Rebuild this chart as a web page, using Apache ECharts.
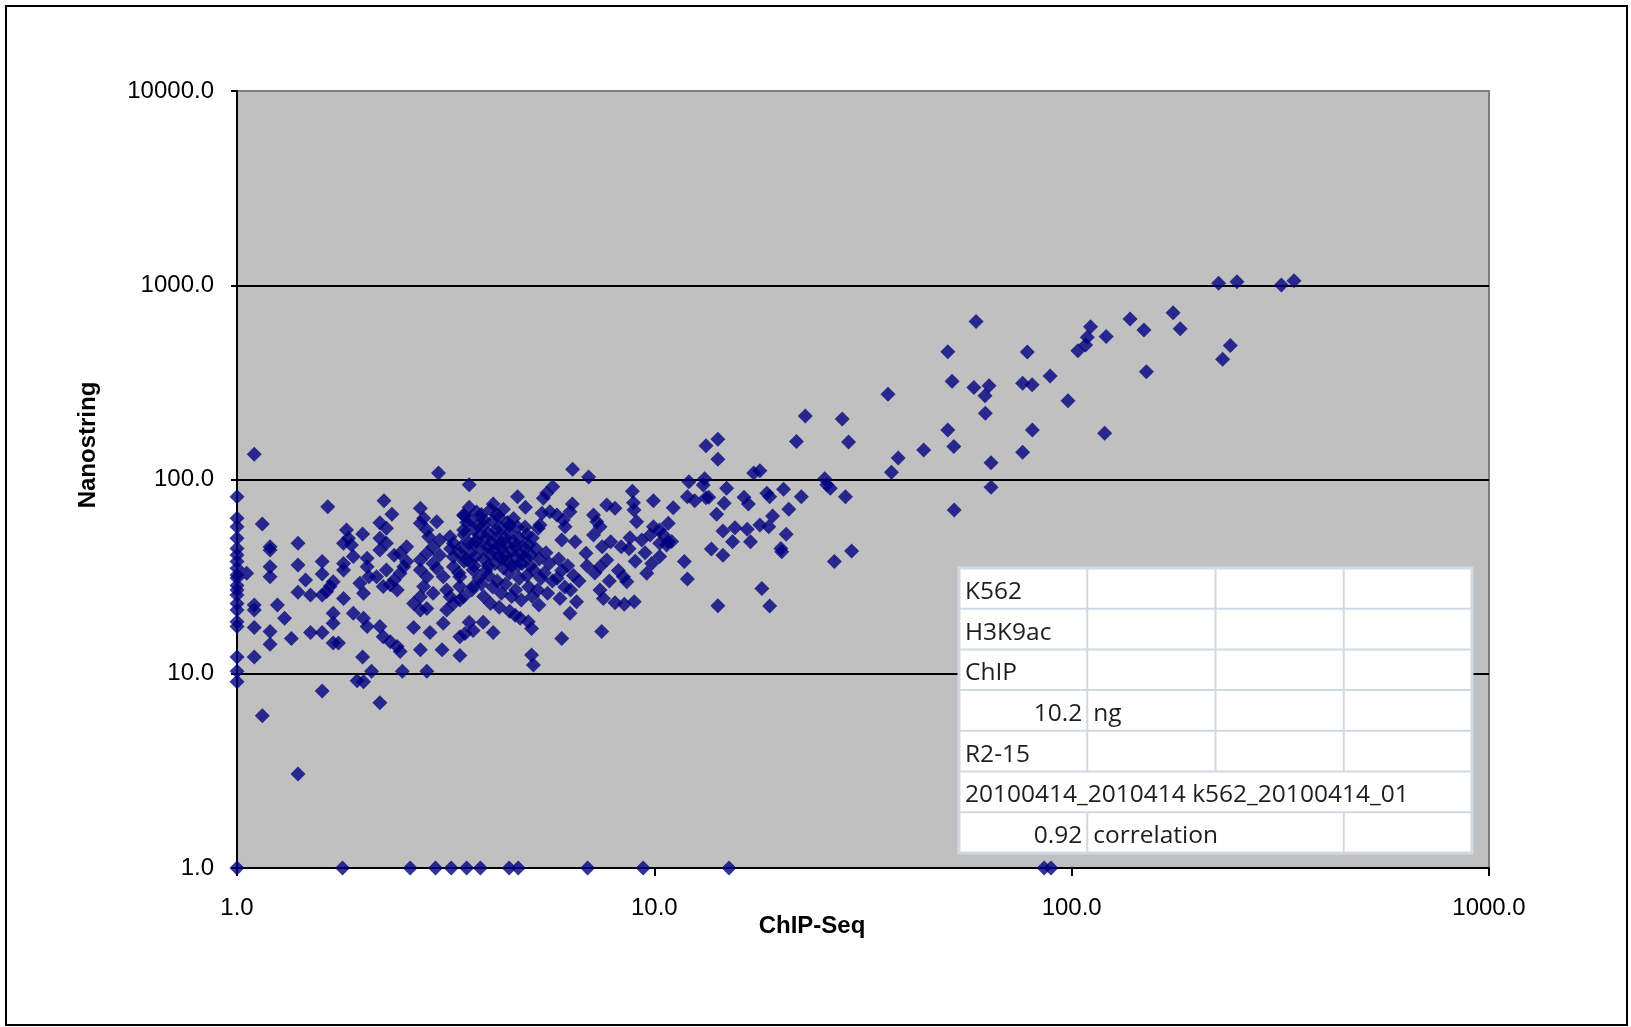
<!DOCTYPE html>
<html>
<head>
<meta charset="utf-8">
<title>ChIP-Seq vs Nanostring</title>
<script src="https://cdn.jsdelivr.net/npm/echarts@6/dist/echarts.min.js"></script>
<style>
  html, body { margin: 0; padding: 0; background: #fff; }
  #chart { width: 1631px; height: 1027px; }
</style>
</head>
<body>
<div id="chart"></div>
<script>
// ChIP-Seq signal (x) against Nanostring count (y), one [x, y] pair per probe.

// probes with a ChIP-Seq value of 1.0
const axisColumn = [
  [1,81.5],[1,63.1],[1,57.2],[1,49.8],[1,44.2],[1,40.9],[1,37.8],[1,34.9],[1,32.2],[1,31.1],
  [1,28.5],[1,27],[1,25.4],[1,23],[1,21.3],[1,18.5],[1,17.5],[1,12.2],[1,10.3],[1,9.1],[1.055,32.9]
];

// probes with a Nanostring value of 1.0
const floorRow = [
  [1.0,1],[1.79,1],[2.60,1],[2.99,1],[3.26,1],[3.55,1],[3.83,1],[4.49,1],[4.72,1],
  [6.92,1],[9.40,1],[15.1,1],[85.9,1],[89.2,1]
];

// low ChIP-Seq signal
const lowRange = [
  [1.10,135],[1.15,59],[1.20,45.1],[1.20,43.4],[1.20,35.6],[1.20,31.6],[1.40,47],[1.40,36.3],
  [1.46,30.4],[1.40,26.3],[1.50,25.4],[1.60,37.8],[1.60,32.6],[1.67,28.1],[1.70,29.8],[1.65,72.4],
  [1.83,55],[1.85,49.8],[1.80,47],[1.88,46],[2.0,52.4],[1.90,40.1],[1.80,37],[1.80,34.2],
  [2.05,39.3],[2.05,35.6],[2.07,31.6],[1.97,29.2],[2.01,26],[2.25,77.8],[2.35,66.2],[2.20,59.9],
  [2.28,56.1],[2.20,49.8],[2.28,47],[2.20,43.4],[2.38,40.8],[2.46,41.7],[2.55,45.1],[2.55,37.8],
  [2.51,35.6],[2.46,32.9],[2.38,30.4],[2.33,28.7],[2.42,27],[2.28,34.2],[2.16,31.6],[2.24,28.1],
  [1.10,12.2],[1.15,6.08],[1.40,3.05],[1.60,8.15],[2.0,12.2],[2.10,10.3],[1.94,9.2],[2.01,9.1],
  [2.20,7.1],[2.49,10.3],[2.85,10.3],[2.75,13.3],[3.10,13.3],[3.42,12.4],
  [1.10,17.3],[1.10,22.6],[1.10,21.3],[1.20,16.5],[1.20,14.2],[1.25,22.6],[1.30,19.3],[1.35,15.2],
  [1.50,16.3],[1.60,25.4],[1.64,26.5],[1.60,16.3],[1.70,18.2],[1.70,14.4],[1.75,14.4],[1.70,20.5],
  [1.80,24.4],[1.90,20.5],[2.01,19.3],[2.05,17.5],[2.20,17.5],[2.24,15.5],[2.33,14.6],[2.42,13.8],
  [2.46,13.0],[2.65,17.3],[2.90,16.3],[2.75,21.3],[2.65,23],[2.85,21.7],[3.12,18.2],[3.18,21.3],
  [3.30,23],[3.42,24],[3.42,15.5],[3.04,108],[3.6,94]
];

// densest part of the cloud
const coreCluster = [
  [2.75,71.1],[2.80,63.1],[3.01,60.6],[2.75,59.5],[2.85,55],[2.88,50.8],[3.06,48.8],[3.24,50.8],
  [3.30,47],[2.95,45.1],[2.85,41.7],[3.06,40.8],[2.75,38.5],[2.95,37],[2.75,34.2],[3.01,34.9],
  [3.30,35.6],[3.12,31.6],[2.85,31.6],[3.42,31.6],[3.42,28.1],[3.18,27],[2.80,28.1],[2.95,26],
  [2.75,24.9],[3.24,24.9],[3.49,24.9],[3.68,28.1],[3.68,34.2],[3.56,38.5],[3.42,41.7],[3.68,47],
  [3.49,55],[3.49,65.7],[3.6,72],[3.75,68],[3.55,60],[3.5,52],
  [3.62,62],[3.7,55],[3.75,48],[3.62,42],[3.7,36],[3.8,31],[3.65,27],
  [3.85,66],[3.9,58],[3.95,50],[3.85,44],[3.9,39],[3.95,34],[3.85,29],[3.9,25],
  [4.05,70],[4.1,61],[4.0,53],[4.1,47],[4.05,41],[4.15,37],[4.0,32],[4.1,28],[4.05,23],
  [4.25,64],[4.3,56],[4.2,50],[4.3,44],[4.25,40],[4.35,35],[4.2,30],[4.3,26],[4.25,22],
  [4.45,60],[4.5,53],[4.4,47],[4.55,43],[4.45,38],[4.5,33],[4.4,29],[4.55,25],[4.5,21],
  [4.7,57],[4.75,50],[4.65,45],[4.8,41],[4.7,36],[4.75,31],[4.65,27],[4.8,24],
  [4.95,52],[5.0,46],[4.9,40],[5.05,36],[4.95,32],[5.0,28],[5.1,25],
  [5.2,44],[5.3,39],[5.15,34],[5.35,31],[5.25,27],
  [5.5,42],[5.6,37],[5.45,33],[5.7,30],[5.55,26],
  [5.9,39],[6.0,34],[5.85,31],[6.1,28],[6.2,36],[6.4,32],[6.3,27],[6.6,30],
  [3.45,45],[3.5,38],[3.4,33],[3.3,40],[3.25,44],
  [3.78,58],[3.98,45],[4.18,55],[4.38,50],[4.6,48],[4.85,45],[4.12,43],[4.32,39],[4.55,36],
  [4.82,37],[3.9,62],[4.2,66],[4.6,63],[4.9,57],[5.1,50],[4.0,36],[4.4,41],[3.72,40],
  [4.65,40],[5.05,41],[3.6,47],[3.82,52],[4.25,46],[4.5,58],
  [3.6,18.4],[3.52,16.1],[3.68,16.7],[3.89,18.4],[4.11,16.3],[4.64,20],[4.77,19.3],[4.99,18.5],
  [5.08,17.1],[5.29,22.6],[5.94,24.4],[6.51,23.5],[6.28,20.5],[6.0,15.2],[7.48,16.5],[5.08,12.5],[5.13,11.1]
];

// ChIP-Seq roughly 4 to 12
const midRange = [
  [6.37,113],[6.96,103],[5.71,91.9],[5.52,84.9],[5.42,80],[4.70,81.5],[4.91,71.9],[4.11,74.8],
  [4.35,70.3],[3.5,65.1],[6.36,74.8],[6.28,68.3],[5.38,67],[5.62,68.3],[5.84,65.7],[6.05,61.9],
  [6.11,57.2],[5.32,58.3],[5.27,56.1],[8.86,86.9],[8.91,76],[8.94,69.7],[9.07,60.6],[9.95,77.8],
  [11.1,71.6],[7.69,73.9],[8.05,71.1],[7.15,65.7],[7.28,60.6],[7.41,57.2],[7.15,51.8],[7.86,47.8],
  [8.33,45.1],[8.74,50.1],[9.33,48.8],[9.77,51.8],[9.95,57.2],[10.3,55],[10.8,59.5],[10.3,47],
  [10.8,47.8],[6.86,41.7],[6.46,47.8],[6.0,48.8],[7.41,35.6],[7.69,38.5],[7.41,27],[7.55,24.4],
  [8.05,23.2],[8.47,22.8],[8.95,23.5],[8.43,31.6],[8.59,29.8],[9.59,32.9],[9.86,37],[10.3,40.1],
  [10.7,46],[6.9,36],[7.2,33],[7.8,30],[8.2,34],[9.0,38],[9.5,42],[8.7,44],[7.5,45],[10.5,52],[11,48]
];

// ChIP-Seq roughly 12 to 30
const upperRange = [
  [13.3,149],[14.2,161],[14.2,127],[17.3,108],[17.9,111],[13.2,101],[13.1,93.7],[13.5,81],
  [14.9,90.1],[14.7,75.4],[14.1,66.2],[16.4,81],[16.8,74.8],[18.6,84.9],[18.9,81.5],[20.4,89],
  [22.5,81.5],[21,70.3],[19.2,64.9],[14.6,54.3],[15.6,56.5],[16.7,55.4],[17.9,58.3],[18.8,57.2],
  [15.4,47.8],[17,47.8],[20.7,52.2],[20.1,44.2],[20.2,42.5],[13.7,43.9],[14.6,40.8],[18.1,27.5],
  [18.9,22.3],[14.2,22.4],[12,81.5],[12.5,77.8],[13.3,80.5],[12.1,97.5],[11.8,37.8],[12,30.7]
];

// high ChIP-Seq signal
const highRange = [
  [225,1023],[249,1043],[318,1003],[341,1055],[230,416],[240,489],[175,722],[182,598],[149,589],
  [151,359],[138,670],[121,544],[120,173],[111,612],[109,540],[108,492],[103.5,460],[98,254],
  [88.8,341],[80.4,307],[76.3,313],[78.3,453],[80.5,180],[76.3,138],[59,650],[50.5,455],[51.7,320],
  [58.3,298],[63.4,304],[62,270],[62.1,219],[50.5,180],[52.2,148],[64.1,122],[64.1,91.2],[52.3,69.7],
  [44.2,142],[38.4,129],[37,109],[36.3,275],[29.2,156],[28.2,205],[23,212],[21.9,157],[25.9,94],
  [25.6,101],[28.7,81.5],[29.7,42.9],[27,37.8],[26.4,90.1]
];

// x-axis and y-axis tick values
const xTicks = [1, 10, 100, 1000];
const yTicks = [1, 10, 100, 1000, 10000];

// sample notes shown in the side table
const tableRows = [
  ['K562'],
  ['H3K9ac'],
  ['ChIP'],
  ['10.2', 'ng'],
  ['R2-15'],
  ['20100414_2010414 k562_20100414_01'],
  ['0.92', 'correlation']
];

const points = [].concat(axisColumn, floorRow, lowRange, coreCluster, midRange, upperRange, highRange);

const chart = echarts.init(document.getElementById('chart'), null, { renderer: 'canvas' });

const labelFont = { fontFamily: '"Liberation Sans", Arial, sans-serif', fontSize: 24, color: '#000' };

// side table geometry
const tbl = { left: 959, top: 568, colW: 128.25, rowH: 40.7, cols: 4 };
const tblW = tbl.colW * tbl.cols;
const tblH = tbl.rowH * tableRows.length;
const lineColor = '#d0d7e5';
const tableEls = [];
tableEls.push({ type: 'rect', shape: { x: tbl.left, y: tbl.top, width: tblW, height: tblH },
  style: { fill: '#fff', stroke: lineColor, lineWidth: 3 }, z: 100 });
for (let r = 1; r < tableRows.length; r++) {
  const y = tbl.top + r * tbl.rowH;
  tableEls.push({ type: 'line', shape: { x1: tbl.left, y1: y, x2: tbl.left + tblW, y2: y },
    style: { stroke: lineColor, lineWidth: 2 }, z: 101 });
}
tableRows.forEach((row, r) => {
  const y0 = tbl.top + r * tbl.rowH;
  let seps = [1, 2, 3];
  if (row[0].length > 12) seps = [];
  else if (row[1] === 'correlation') seps = [1, 3];
  seps.forEach(c => {
    const x = tbl.left + c * tbl.colW;
    tableEls.push({ type: 'line', shape: { x1: x, y1: y0, x2: x, y2: y0 + tbl.rowH },
      style: { stroke: lineColor, lineWidth: 2 }, z: 101 });
  });
  row.forEach((txt, c) => {
    const numeric = /^[0-9.]+$/.test(txt);
    tableEls.push({
      type: 'text', z: 102,
      x: numeric ? tbl.left + (c + 1) * tbl.colW - 5 : tbl.left + c * tbl.colW + 6,
      y: y0 + 24,
      style: { text: txt, fill: '#1e1e1e', font: '24.5px "Open Sans", Lato, sans-serif',
        align: numeric ? 'right' : 'left', verticalAlign: 'middle' }
    });
  });
});

const option = {
  animation: false,
  backgroundColor: '#fff',
  grid: { left: 237, top: 91, width: 1252, height: 777, show: true,
    backgroundColor: '#c0c0c0', borderColor: '#808080', borderWidth: 2 },
  xAxis: {
    type: 'log', logBase: 10, min: xTicks[0], max: xTicks[xTicks.length - 1],
    axisLine: { show: true, lineStyle: { color: '#000', width: 2 } },
    axisTick: { show: true, length: 8, lineStyle: { color: '#000', width: 2 } },
    axisLabel: Object.assign({ margin: 28, formatter: v => Number(v).toFixed(1) }, labelFont),
    splitLine: { show: false }
  },
  yAxis: {
    type: 'log', logBase: 10, min: yTicks[0], max: yTicks[yTicks.length - 1],
    axisLine: { show: true, lineStyle: { color: '#000', width: 2 } },
    axisTick: { show: true, length: 6, lineStyle: { color: '#000', width: 2 } },
    axisLabel: Object.assign({ margin: 23, formatter: v => Number(v).toFixed(1) }, labelFont),
    splitLine: { show: true, showMinLine: false, showMaxLine: false, lineStyle: { color: '#000', width: 2 } }
  },
  series: [{
    type: 'scatter',
    symbol: 'diamond',
    symbolSize: 15,
    itemStyle: { color: '#000080' },
    data: points
  }],
  graphic: [
    { type: 'rect', z: 0, silent: true, shape: { x: 6, y: 6, width: 1621, height: 1019 },
      style: { fill: 'none', stroke: '#000', lineWidth: 2 } },
    { type: 'text', z: 50, x: 812, y: 926,
      style: { text: 'ChIP-Seq', fill: '#000', font: 'bold 24px "Liberation Sans", Arial, sans-serif',
        align: 'center', verticalAlign: 'middle' } },
    { type: 'text', z: 50, x: 88, y: 445, rotation: Math.PI / 2,
      style: { text: 'Nanostring', fill: '#000', font: 'bold 24px "Liberation Sans", Arial, sans-serif',
        align: 'center', verticalAlign: 'middle' } }
  ].concat(tableEls)
};

chart.setOption(option);
</script>
</body>
</html>
